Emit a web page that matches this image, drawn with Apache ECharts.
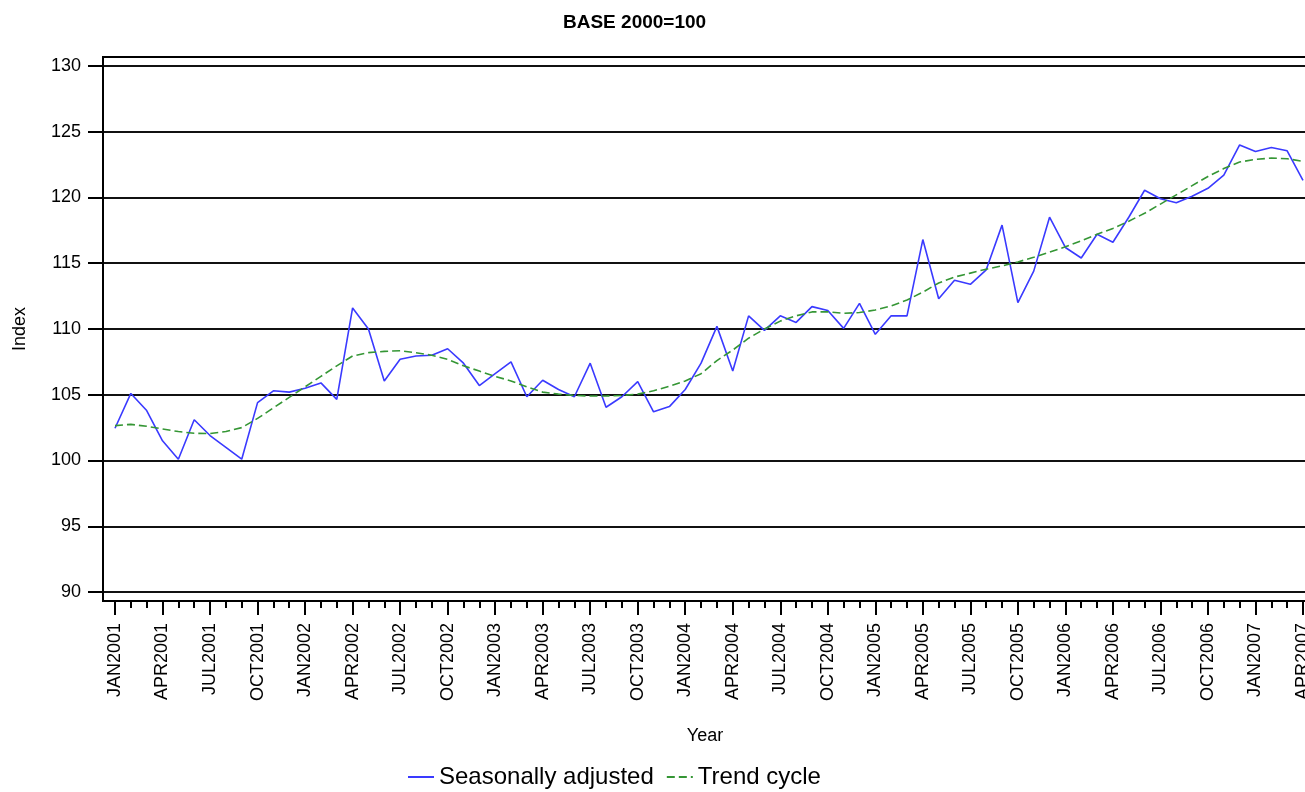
<!DOCTYPE html>
<html>
<head>
<meta charset="utf-8">
<script src="https://cdn.jsdelivr.net/npm/echarts@6/dist/echarts.min.js"></script>
<style>
  html, body { margin: 0; padding: 0; background: #fff; }
  #chart { width: 1305px; height: 792px; }
</style>
</head>
<body>
<div id="chart"></div>
<script>
// monthly, JAN2001 .. APR2007 (76 points)
const seasonallyAdjusted = [
  102.45, 105.1, 103.8, 101.5, 100.1, 103.1, 101.9, 101.0, 100.1, 104.4, 105.3, 105.2,
  105.5, 105.9, 104.65, 111.6, 110.0, 106.05, 107.7, 107.95, 108.0, 108.5, 107.4, 105.7,
  106.6, 107.5, 104.85, 106.1, 105.4, 104.85, 107.4, 104.05, 104.85, 106.0, 103.7, 104.1,
  105.4, 107.4, 110.2, 106.8, 111.0, 109.9, 111.0, 110.5, 111.7, 111.4, 110.05, 111.95,
  109.6, 111.0, 111.0, 116.8, 112.3, 113.7, 113.4, 114.5, 117.9, 112.0, 114.4, 118.5,
  116.2, 115.4, 117.2, 116.6, 118.5, 120.55, 119.9, 119.6, 120.1, 120.7, 121.7, 124.0,
  123.5, 123.8, 123.55, 121.3
]
const trendCycle = [
  102.65, 102.75, 102.6, 102.4, 102.2, 102.07, 102.05, 102.2, 102.5, 103.2, 104.0, 104.8,
  105.6, 106.4, 107.2, 107.95, 108.2, 108.3, 108.35, 108.2, 108.0, 107.7, 107.2, 106.8,
  106.4, 106.05, 105.6, 105.2, 105.05, 104.95, 104.9, 104.9, 104.95, 105.05, 105.3, 105.65,
  106.05, 106.6, 107.6, 108.4, 109.3, 110.0, 110.6, 111.0, 111.3, 111.3, 111.2, 111.25,
  111.45, 111.75, 112.2, 112.8, 113.5, 113.95, 114.25, 114.55, 114.8, 115.1, 115.45, 115.85,
  116.25, 116.7, 117.2, 117.65, 118.2, 118.8, 119.5, 120.2, 120.9, 121.6, 122.2, 122.7,
  122.9, 123.0, 122.95, 122.75
]
const quarterLabels = [
  'JAN2001','APR2001','JUL2001','OCT2001',
  'JAN2002','APR2002','JUL2002','OCT2002',
  'JAN2003','APR2003','JUL2003','OCT2003',
  'JAN2004','APR2004','JUL2004','OCT2004',
  'JAN2005','APR2005','JUL2005','OCT2005',
  'JAN2006','APR2006','JUL2006','OCT2006',
  'JAN2007','APR2007'
]
const yTicks = [90, 95, 100, 105, 110, 115, 120, 125, 130]

const monthIdx = seasonallyAdjusted.map((v, i) => i)
const quarterIdx = quarterLabels.map((v, i) => i * 3)

const font = "'Liberation Sans', Arial, sans-serif"
const xMin = -0.7576, xMax = 75.2525

let myChart = echarts.init(document.getElementById('chart'))
myChart.setOption({
  animation: false,
  title: {
    text: 'BASE 2000=100',
    left: 563,
    top: 13,
    padding: 0,
    textStyle: { fontFamily: font, fontSize: 19, fontWeight: 'bold', color: '#000' }
  },
  legend: {
    left: 407,
    top: 765,
    padding: 0,
    itemWidth: 26,
    itemHeight: 14,
    itemGap: 12,
    itemStyle: { opacity: 0 },
    textStyle: { fontFamily: font, fontSize: 24, color: '#000' },
    data: ['Seasonally adjusted', 'Trend cycle']
  },
  grid: {
    left: 103,
    right: -2,
    top: 57,
    bottom: 191,
    outerBoundsMode: 'none',
    containLabel: false,
    show: true,
    borderColor: '#000',
    borderWidth: 2
  },
  xAxis: [
    {
      type: 'value',
      position: 'bottom',
      min: xMin,
      max: xMax,
      axisLine: { show: true, onZero: false, lineStyle: { color: '#000', width: 2 } },
      axisTick: { show: true, customValues: monthIdx, length: 7, lineStyle: { color: '#000', width: 2 } },
      axisLabel: { show: false },
      splitLine: { show: false }
    },
    {
      type: 'value',
      position: 'bottom',
      min: xMin,
      max: xMax,
      name: 'Year',
      nameLocation: 'middle',
      nameGap: 126,
      nameTextStyle: { fontFamily: font, fontSize: 18, color: '#000' },
      axisLine: { show: false, onZero: false },
      axisTick: { show: true, customValues: quarterIdx, length: 14, lineStyle: { color: '#000', width: 2 } },
      axisLabel: {
        customValues: quarterIdx,
        rotate: 90,
        margin: 22,
        fontFamily: font,
        fontSize: 18,
        color: '#000',
        formatter: v => quarterLabels[Math.round(v / 3)]
      },
      splitLine: { show: false }
    }
  ],
  yAxis: {
    type: 'value',
    min: 89.316,
    max: 130.684,
    name: 'Index',
    nameLocation: 'middle',
    nameRotate: 90,
    nameGap: 74,
    nameTextStyle: { fontFamily: font, fontSize: 18, color: '#000' },
    axisLine: { show: true, onZero: false, lineStyle: { color: '#000', width: 2 } },
    axisTick: { show: true, customValues: yTicks, length: 15, lineStyle: { color: '#000', width: 2 } },
    axisLabel: { customValues: yTicks, margin: 22, fontFamily: font, fontSize: 18, color: '#000' },
    splitLine: { show: true, lineStyle: { color: '#111', width: 2 } }
  },
  series: [
    {
      name: 'Seasonally adjusted',
      type: 'line',
      xAxisIndex: 0,
      symbol: 'none',
      data: monthIdx.map(i => [i, seasonallyAdjusted[i]]),
      lineStyle: { color: '#3a3aff', width: 1.6 },
      itemStyle: { color: '#3a3aff' },
      z: 3
    },
    {
      name: 'Trend cycle',
      type: 'line',
      xAxisIndex: 0,
      symbol: 'none',
      data: monthIdx.map(i => [i, trendCycle[i]]),
      lineStyle: { color: '#359635', width: 1.6, type: [8, 4] },
      itemStyle: { color: '#359635' },
      z: 4
    }
  ]
})
</script>
</body>
</html>
